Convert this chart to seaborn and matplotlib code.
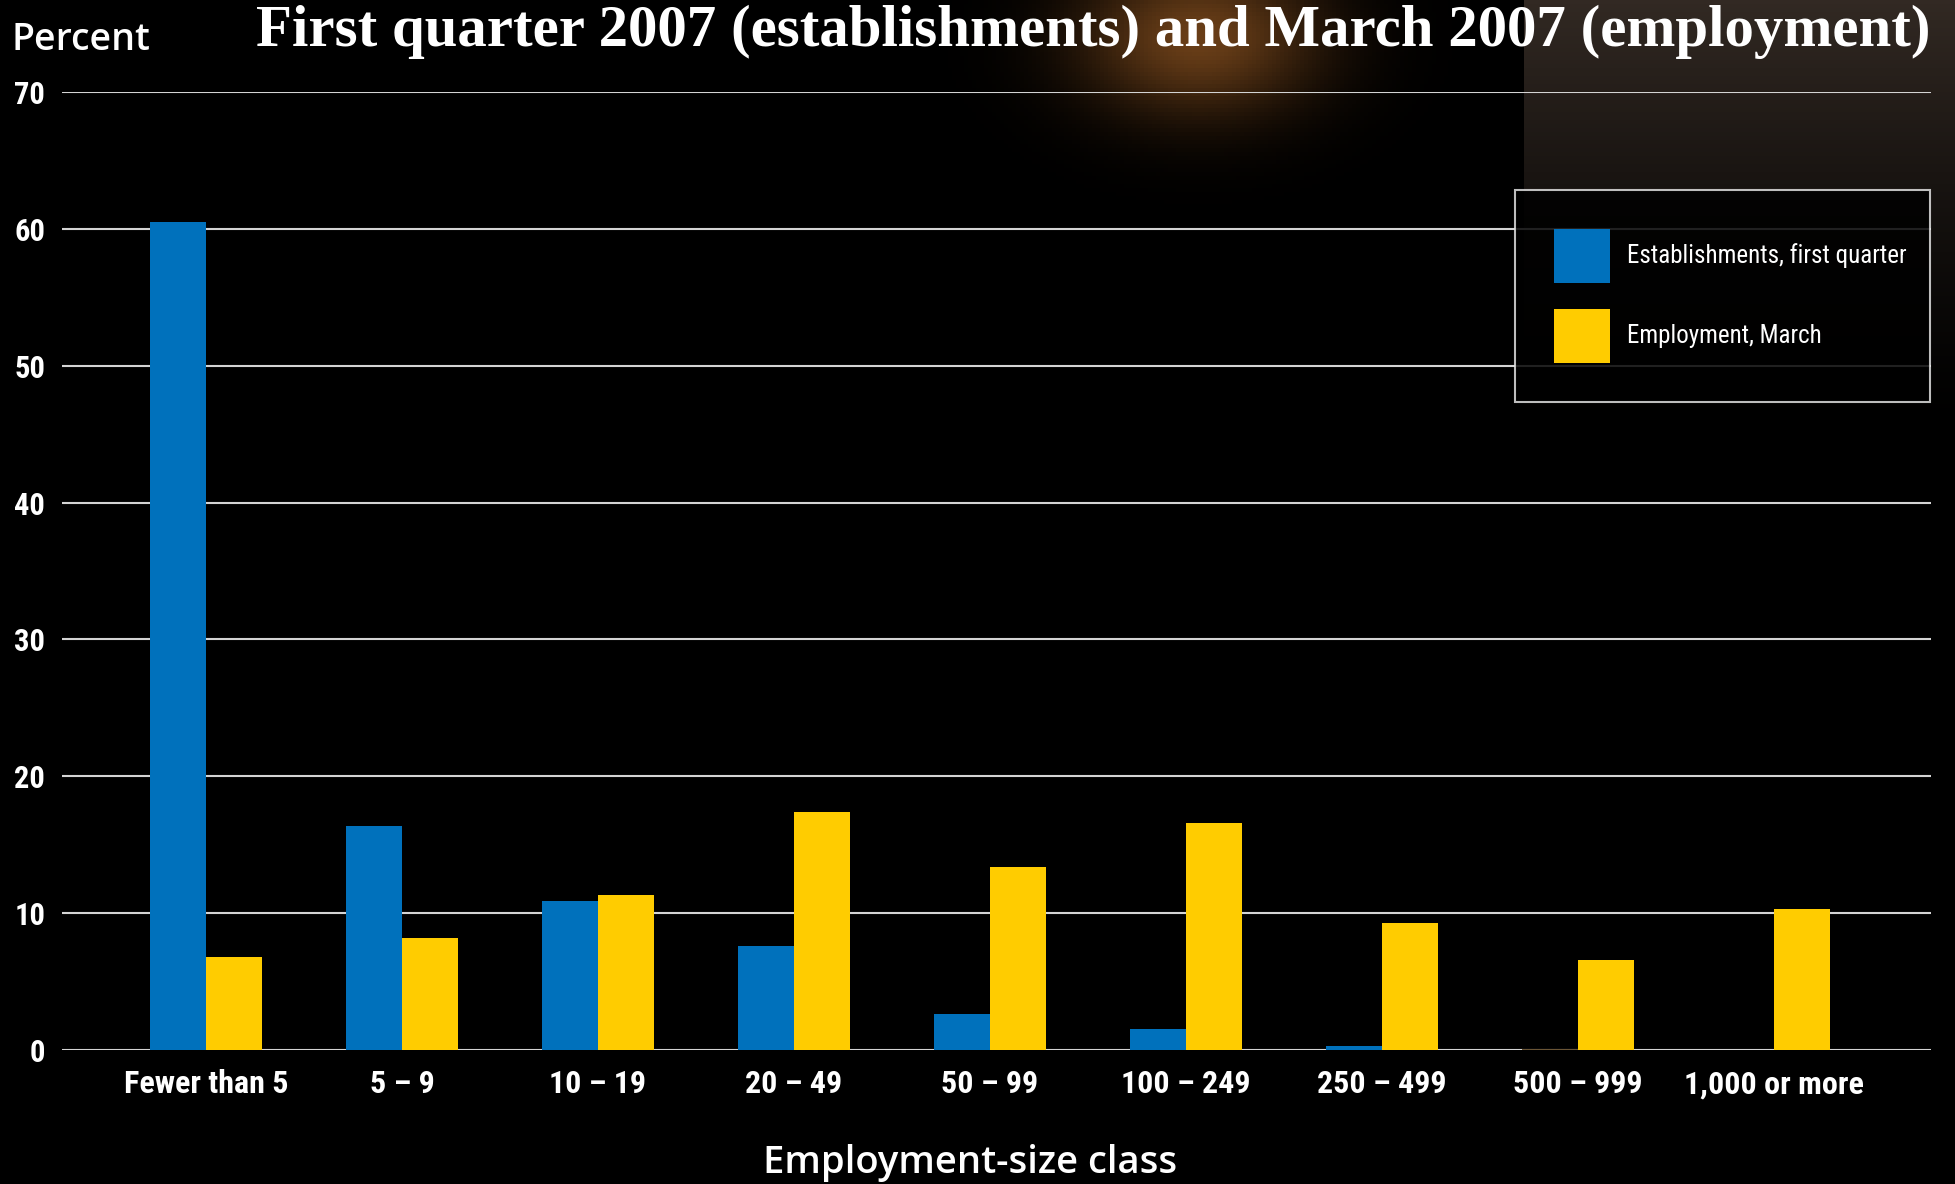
import matplotlib
matplotlib.use("Agg")
import matplotlib.pyplot as plt
from matplotlib import font_manager as fm
import seaborn as sns
import pandas as pd
import numpy as np

# data
size_classes = ["Fewer than 5", "5 – 9", "10 – 19", "20 – 49", "50 – 99",
                "100 – 249", "250 – 499", "500 – 999", "1,000 or more"]
establishments = [60.5, 16.4, 10.9, 7.6, 2.6, 1.5, 0.3, 0.1, 0.0]
employment = [6.8, 8.2, 11.3, 17.4, 13.4, 16.6, 9.3, 6.6, 10.3]
series_names = ["Establishments, first quarter", "Employment, March"]
y_ticks = [0, 10, 20, 30, 40, 50, 60, 70]

df = pd.DataFrame({
    "size": size_classes * 2,
    "pct": establishments + employment,
    "series": [series_names[0]] * len(size_classes) + [series_names[1]] * len(size_classes),
})

# look for a narrow sans to stand in for the condensed labels
ttf = fm.fontManager.ttflist
have = {f.name for f in ttf}
narrow_name = None
for c in ["Liberation Sans Narrow", "Roboto Condensed", "Open Sans Condensed",
          "Noto Sans Condensed", "Noto Sans SemiCondensed", "Arial Narrow"]:
    if c in have:
        narrow_name = c
        break
if narrow_name is None and any(f.name == "DejaVu Sans" and f.stretch == "condensed" for f in ttf):
    narrow_name = "DejaVu Sans"
fs = 1.0 if narrow_name else 0.78
narrow = [narrow_name or "DejaVu Sans", "DejaVu Sans"]

sns.set_style("dark")
plt.rcParams["text.color"] = "white"

fig = plt.figure(figsize=(19.56, 11.84), dpi=100, facecolor="black")

# dark photo-like backdrop (decoration only)
bg = fig.add_axes([0, 0, 1, 1], zorder=0)
H, W = 296, 489
yy, xx = np.mgrid[0:H, 0:W]
fx, fy = xx / W, yy / H
img = np.zeros((H, W, 3))
fade = np.clip(1 - fy / 0.36, 0, 1) ** 1.3 * (fx > 0.7776)
img += fade[..., None] * np.array([50, 41, 35]) / 255
glow = np.exp(-(((fx - 0.612) / 0.06) ** 2 + ((fy - 0.03) / 0.065) ** 2))
img += glow[..., None] * np.array([105, 62, 24]) / 255
bg.imshow(np.clip(img, 0, 1), aspect="auto", extent=(0, 1, 0, 1), origin="upper")
bg.set_axis_off()

ax = fig.add_axes([0.0317, 0.1132, 0.9553, 0.8091], zorder=1)
ax.set_facecolor("none")

sns.barplot(data=df, x="size", y="pct", hue="series",
            palette=["#0071BC", "#FFCC00"], width=0.574, saturation=1,
            linewidth=0, ax=ax, zorder=3)
# the tiny 500-999 establishments sliver shows up brownish in the original
ax.patches[7].set_facecolor("#6b5535")

ax.set_ylim(0, 70)
ax.set_xlim(-0.735, 8.80)
ax.set_yticks(y_ticks)
ax.set_axisbelow(True)
ax.yaxis.grid(True, color="#d4d4d4", lw=1.5)
ax.xaxis.grid(False)
for s in ax.spines.values():
    s.set_visible(False)
ax.set_xlabel("")
ax.set_ylabel("")
ax.tick_params(axis="y", length=0, pad=12, labelcolor="white")
ax.tick_params(axis="x", length=0, pad=14, labelcolor="white")
for lab in ax.get_yticklabels():
    lab.set_family(narrow)
    lab.set_stretch("condensed")
    lab.set_fontweight("bold")
    lab.set_fontsize(22 * fs)
for lab in ax.get_xticklabels():
    lab.set_family(narrow)
    lab.set_stretch("condensed")
    lab.set_fontweight("bold")
    lab.set_fontsize(23 * fs)

sns.move_legend(ax, "upper left", bbox_to_anchor=(0.7745, 0.5, 0.2122, 0.3395),
                bbox_transform=fig.transFigure, mode="expand", borderaxespad=0,
                title=None, frameon=True, fancybox=False, framealpha=0.85,
                facecolor="black", edgecolor="#e0e0e0",
                prop={"family": narrow, "size": 18 * fs, "stretch": "condensed"},
                handlelength=2.24 / fs, handleheight=2.95 / fs, handletextpad=0.7,
                labelspacing=1.05, borderpad=1.55 / fs)
leg = ax.get_legend()
leg.get_frame().set_linewidth(1.5)
for t in leg.get_texts():
    t.set_color("white")

fig.text(0.987, 0.973, "First quarter 2007 (establishments) and March 2007 (employment)",
         ha="right", va="center", fontsize=42.4, fontweight="bold",
         family=["Liberation Serif", "DejaVu Serif"], color="white")
fig.text(0.006, 0.966, "Percent", ha="left", va="center", fontsize=27,
         fontweight="semibold", family=["Open Sans", "DejaVu Sans"], color="white")
fig.text(0.496, 0.018, "Employment-size class", ha="center", va="center", fontsize=27.5,
         fontweight="semibold", family=["Open Sans", "DejaVu Sans"], color="white")

fig.savefig("out.png", dpi=100, facecolor="black")
